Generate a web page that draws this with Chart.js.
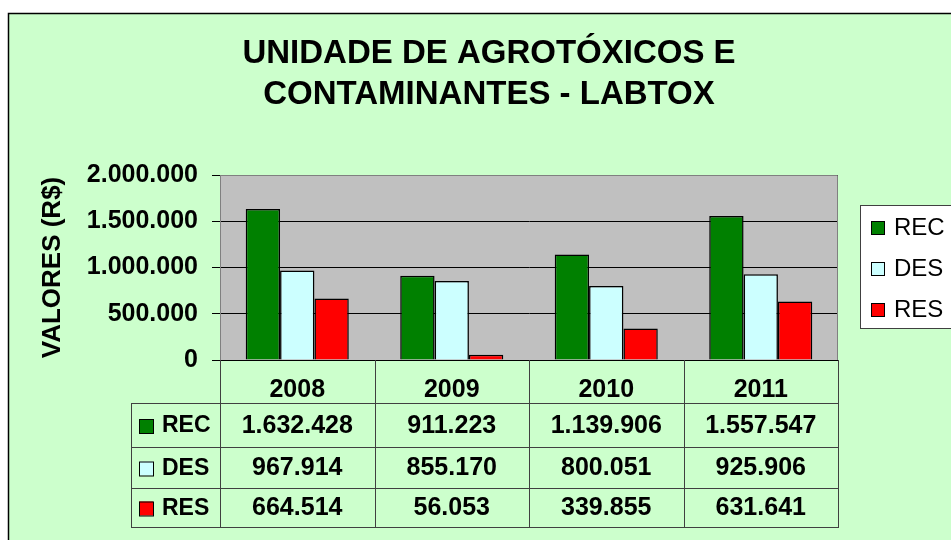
<!DOCTYPE html>
<html>
<head>
<meta charset="utf-8">
<script src="https://cdn.jsdelivr.net/npm/chart.js@4"></script>
<style>
  html, body { margin: 0; padding: 0; background: #ffffff; }
  #wrap { position: relative; width: 951px; height: 540px; }
</style>
</head>
<body>
<div id="wrap"><canvas id="c" width="951" height="540"></canvas></div>
<script>
const titleLines = ['UNIDADE DE AGROTÓXICOS E', 'CONTAMINANTES - LABTOX'];
const categories = ['2008', '2009', '2010', '2011'];
const seriesNames = ['REC', 'DES', 'RES'];
const recValues = [1632428, 911223, 1139906, 1557547];
const desValues = [967914, 855170, 800051, 925906];
const resValues = [664514, 56053, 339855, 631641];
const seriesColors = ['#008000', '#CCFFFF', '#FF0000'];
const yTicks = [0, 500000, 1000000, 1500000, 2000000];
const yTitle = 'VALORES (R$)';

const FONT = "'Liberation Sans', Arial, Helvetica, sans-serif";
const fmt = n => String(n).replace(/\B(?=(\d{3})+(?!\d))/g, '.');
const seriesValues = [recValues, desValues, resValues];

const decor = {
  id: 'decor',
  beforeDraw(chart) {
    const ctx = chart.ctx;
    const a = chart.chartArea;
    ctx.save();
    ctx.fillStyle = '#ffffff';
    ctx.fillRect(0, 0, chart.width, chart.height);
    ctx.fillStyle = '#CCFFCC';
    ctx.fillRect(8, 13, chart.width, chart.height);
    ctx.strokeStyle = '#000000';
    ctx.lineWidth = 1.5;
    ctx.beginPath();
    ctx.moveTo(8.5, chart.height + 2);
    ctx.lineTo(8.5, 13.5);
    ctx.lineTo(chart.width + 2, 13.5);
    ctx.stroke();
    ctx.fillStyle = '#C0C0C0';
    ctx.fillRect(a.left, a.top, a.right - a.left, a.bottom - a.top);
    ctx.restore();
  },
  afterDraw(chart) {
    const ctx = chart.ctx;
    const a = chart.chartArea;
    const xs = chart.scales.x;
    ctx.save();
    ctx.strokeStyle = '#808080';
    ctx.lineWidth = 1;
    ctx.beginPath();
    ctx.moveTo(a.left + 0.5, a.bottom);
    ctx.lineTo(a.left + 0.5, a.top + 0.5);
    ctx.lineTo(a.right - 0.5, a.top + 0.5);
    ctx.lineTo(a.right - 0.5, a.bottom);
    ctx.stroke();

    // Title
    ctx.fillStyle = '#000';
    ctx.font = 'bold 33px ' + FONT;
    ctx.textAlign = 'center';
    ctx.textBaseline = 'alphabetic';
    ctx.fillText(titleLines[0], 489, 63);
    ctx.fillText(titleLines[1], 489, 104);

    // Data table
    const rowLines = [403, 447, 488, 527];
    const tableLeft = 131;
    const bounds = [];
    const n = categories.length;
    const step = (a.right - a.left) / n;
    for (let i = 0; i <= n; i++) {
      if (i < n) bounds.push(xs.getPixelForValue(i) - step / 2);
      else bounds.push(xs.getPixelForValue(n - 1) + step / 2);
    }
    ctx.strokeStyle = '#404040';
    ctx.lineWidth = 1;
    ctx.beginPath();
    bounds.forEach(b => {
      const x = Math.round(b) + 0.5;
      ctx.moveTo(x, a.bottom);
      ctx.lineTo(x, rowLines[3] + 0.5);
    });
    ctx.moveTo(tableLeft + 0.5, rowLines[0]);
    ctx.lineTo(tableLeft + 0.5, rowLines[3] + 0.5);
    rowLines.forEach(y => {
      ctx.moveTo(tableLeft, y + 0.5);
      ctx.lineTo(Math.round(bounds[n]) + 1, y + 0.5);
    });
    ctx.stroke();

    ctx.textBaseline = 'middle';
    for (let s = 0; s < seriesNames.length; s++) {
      const yc = (rowLines[s] + rowLines[s + 1]) / 2 + 1;
      ctx.fillStyle = seriesColors[s];
      ctx.fillRect(139, yc - 7, 14, 14);
      ctx.strokeStyle = '#000';
      ctx.lineWidth = 1;
      ctx.strokeRect(139.5, yc - 6.5, 14, 14);
      ctx.fillStyle = '#000';
      ctx.font = 'bold 23px ' + FONT;
      ctx.textAlign = 'left';
      ctx.fillText(seriesNames[s], 162, yc);
      ctx.font = 'bold 25px ' + FONT;
      ctx.textAlign = 'center';
      for (let i = 0; i < n; i++) {
        ctx.fillText(fmt(seriesValues[s][i]), xs.getPixelForValue(i), yc);
      }
    }

    // Legend
    ctx.fillStyle = '#ffffff';
    ctx.fillRect(860, 205, 120, 123);
    ctx.strokeStyle = '#404040';
    ctx.lineWidth = 1;
    ctx.strokeRect(860.5, 205.5, 120, 123);
    ctx.font = '24px ' + FONT;
    ctx.textAlign = 'left';
    const ly = [227, 268, 309];
    for (let s = 0; s < seriesNames.length; s++) {
      ctx.fillStyle = seriesColors[s];
      ctx.fillRect(871, ly[s] - 6, 13, 13);
      ctx.strokeStyle = '#000';
      ctx.strokeRect(871.5, ly[s] - 5.5, 13, 13);
      ctx.fillStyle = '#000';
      ctx.fillText(seriesNames[s], 894, ly[s] + 1);
    }
    ctx.restore();
  }
};

new Chart(document.getElementById('c'), {
  type: 'bar',
  data: {
    labels: categories,
    datasets: seriesNames.map((name, s) => ({
      label: name,
      data: seriesValues[s],
      backgroundColor: seriesColors[s],
      borderColor: '#000000',
      borderWidth: 1.5,
      categoryPercentage: 0.667,
      barPercentage: 1.0
    }))
  },
  options: {
    responsive: false,
    animation: false,
    layout: { padding: { top: 175, left: 0, right: 113, bottom: 137 } },
    plugins: {
      legend: { display: false },
      title: { display: false },
      tooltip: { enabled: false }
    },
    scales: {
      x: {
        grid: { display: false },
        border: { display: true, color: '#000000', width: 1 },
        ticks: { color: '#000', font: { family: FONT, size: 25, weight: 'bold' }, padding: 7 },
        afterFit(scale) { scale.height = 43; }
      },
      y: {
        min: 0,
        max: 2000000,
        afterBuildTicks(scale) { scale.ticks = yTicks.map(v => ({ value: v })); },
        grid: { color: '#000000', lineWidth: 1, tickLength: 8, drawTicks: true },
        border: { display: true, color: '#808080', width: 1 },
        ticks: {
          color: '#000',
          font: { family: FONT, size: 25, weight: 'bold' },
          padding: 14,
          callback: v => fmt(v)
        },
        title: {
          display: true,
          text: yTitle,
          color: '#000',
          font: { family: FONT, size: 26, weight: 'bold' },
          padding: { top: 37, bottom: 0 }
        },
        afterFit(scale) { scale.width = 220; }
      }
    }
  },
  plugins: [decor]
});
</script>
</body>
</html>
